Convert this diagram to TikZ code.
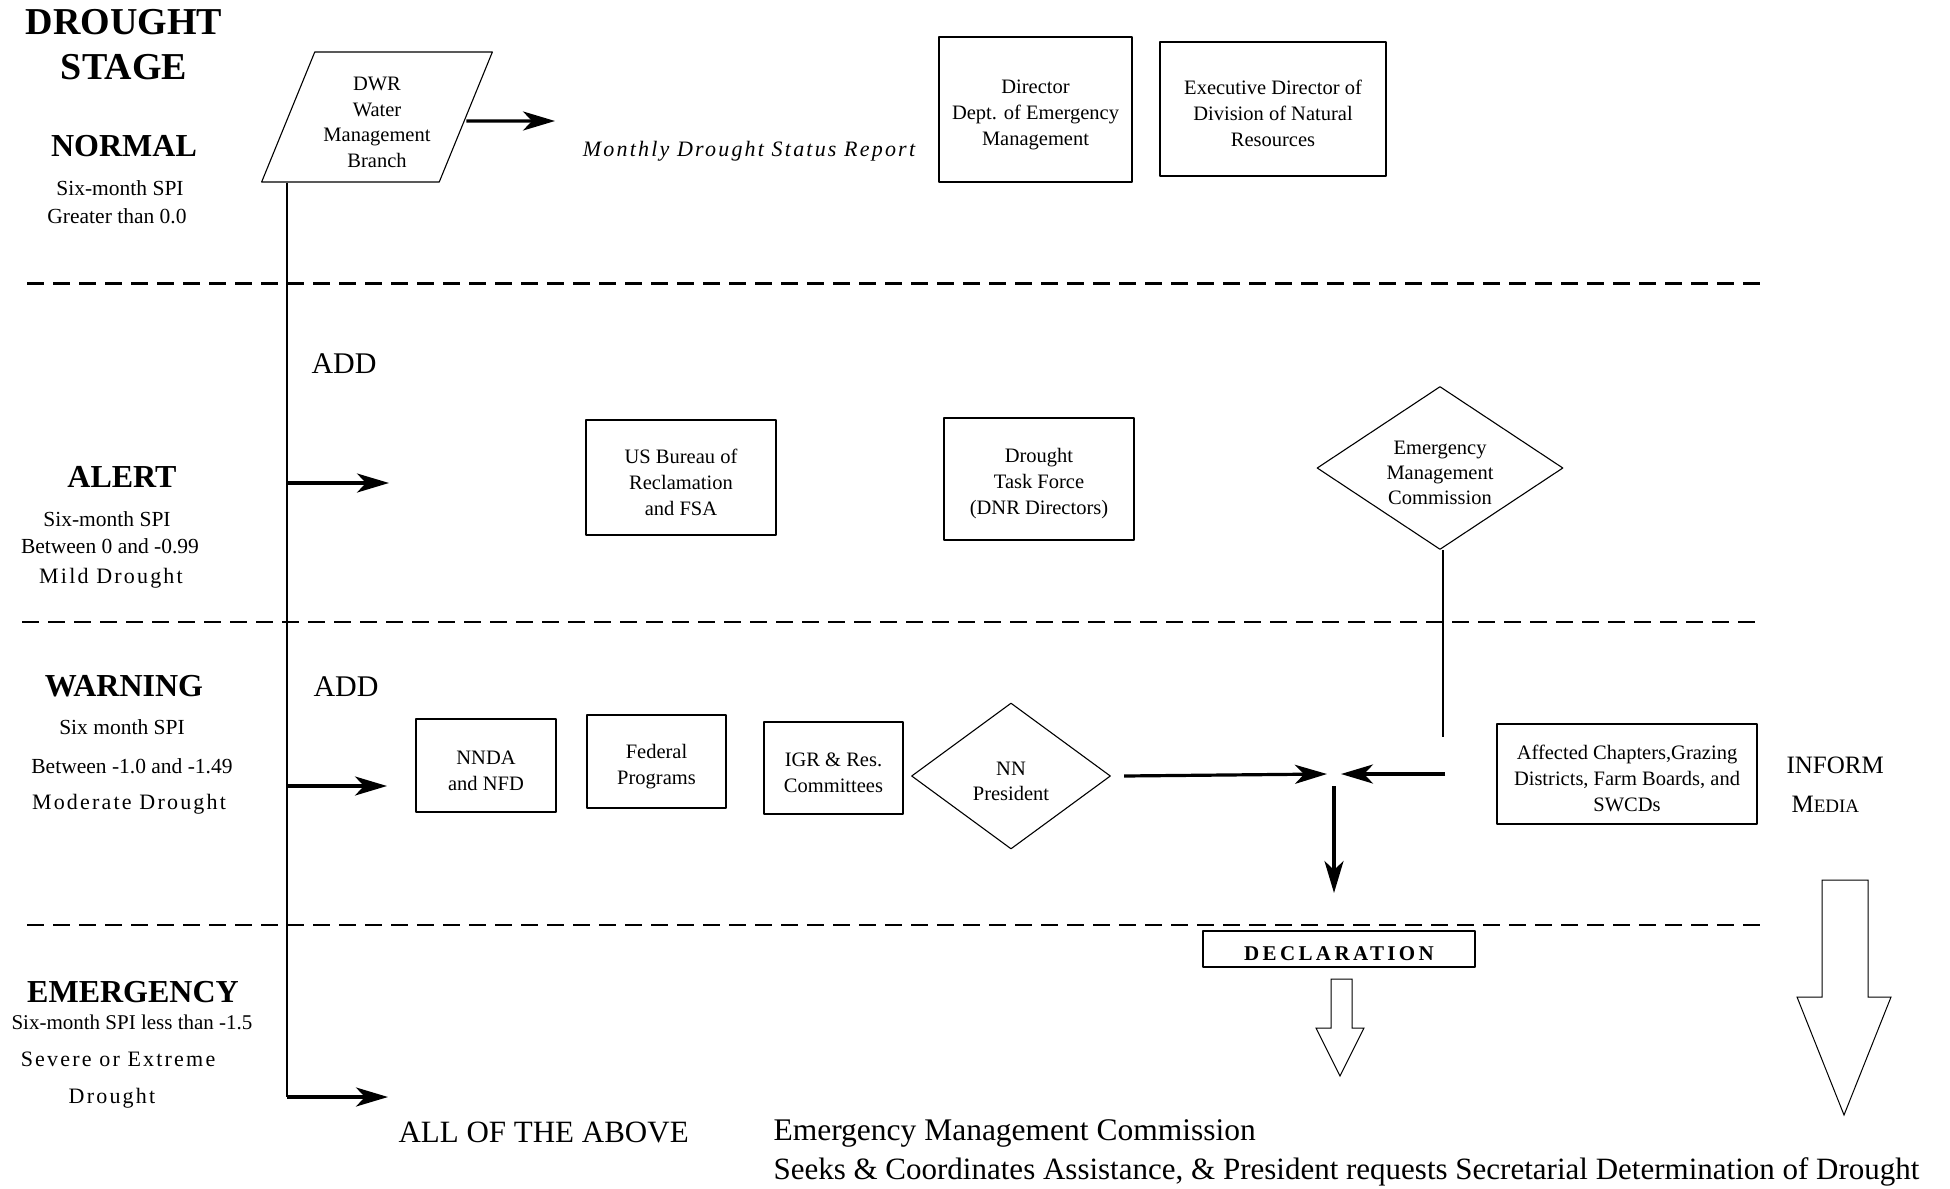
\documentclass[tikz,border=0pt]{standalone}
\usepackage{fontspec}
\setmainfont{Liberation Serif}
\newfontfamily\widefont{Liberation Serif}[LetterSpace=10]
\newfontfamily\declfont{Liberation Serif}[LetterSpace=16]
\usetikzlibrary{arrows.meta,shapes.geometric,positioning}
\newcommand\sz[2]{\fontsize{#1}{#2}\selectfont}
\newcommand\lift{\rule{0pt}{24pt}}

\begin{document}
\begin{tikzpicture}[x=1pt, y=-1pt, line join=round,
		>={Stealth[length=32pt,width=19pt,inset=9pt]},
		box/.style={draw, line width=1.1pt, align=center, inner sep=0pt, font=\sz{20.5}{26}},
		gem/.style={diamond, draw, line width=1.1pt, align=center, inner sep=-10pt, font=\sz{20.5}{25}},
		stage/.style={anchor=base, font=\bfseries\sz{32}{36}},
		note/.style={anchor=base, font=\sz{21.5}{24}},
		spaced/.style={anchor=base, font=\widefont\sz{22}{24}},
		lane/.style={line width=2.7pt, dash pattern=on 17pt off 9pt},
		flow/.style={->, line width=3.2pt},
		hollow/.style={draw, line width=1pt, line join=miter}]
	\useasboundingbox (0,0) rectangle (1950,1188);

	% stage column
	\node[stage, font=\bfseries\sz{38}{40}] (title1) at (124,35) {DROUGHT};
	\node[stage, font=\bfseries\sz{38}{40}] (title2) at (124,80) {STAGE};
	\node[stage] (normal) at (124,157) {NORMAL};
	\node[note] (normal1) at (120,195) {Six-month SPI};
	\node[note] (normal2) at (117,223) {Greater than 0.0};
	\node[stage] (alert) at (122,487) {ALERT};
	\node[note] (alert1) at (107,526) {Six-month SPI};
	\node[note] (alert2) at (110,553) {Between 0 and -0.99};
	\node[spaced] (alert3) at (111,583) {Mild Drought};
	\node[stage] (warning) at (124,696) {WARNING};
	\node[note] (warning1) at (122,734) {Six month SPI};
	\node[note] (warning2) at (132,773) {Between -1.0 and -1.49};
	\node[spaced] (warning3) at (129,809) {Moderate Drought};
	\node[stage] (emergency) at (133,1002) {EMERGENCY};
	\node[note, font=\sz{21}{24}] (emergency1) at (132,1029) {Six-month SPI less than -1.5};
	\node[spaced] (emergency2) at (118,1066) {Severe or Extreme};
	\node[spaced] (emergency3) at (112,1103) {Drought};

	\foreach \y/\a/\b in {283.5/27/1766, 622/22/1760, 925/27/1766}
		\draw[lane] (\a,\y) -- (\b,\y);

	% normal
	\node[trapezium, trapezium stretches=true, trapezium left angle=65.6, trapezium right angle=114.4,
		draw, line width=1.1pt, minimum width=231pt, minimum height=130pt, inner sep=0pt,
		align=center, font=\sz{20.5}{25.5}] (dwr) at (377,117) {\lift DWR\\Water\\Management\\Branch};
	\coordinate (toreport) at (555,121);
	\draw[flow] ([yshift=-4pt]dwr.east) -- (toreport);
	\node[anchor=base, font=\widefont\itshape\sz{22}{24}] (report) at (749,157) {Monthly Drought Status Report};
	\node[box, minimum width=193pt, minimum height=145pt] (dir) at (1035.5,109.5) {\lift Director\\Dept. of Emergency\\Management};
	\node[box, minimum width=226pt, minimum height=134pt] (exec) at (1273,109) {\lift Executive Director of\\Division of Natural\\Resources};

	% spine with the stage arrows
	\coordinate (spine) at (287,0);
	\coordinate (toalert) at (389,483);
	\coordinate (towarning) at (387,786);
	\coordinate (toall) at (388,1097);
	\draw[line width=2.2pt] (dwr.south -| spine) -- (toall -| spine);
	\foreach \t in {toalert,towarning,toall}
		\draw[flow] (\t -| spine) -- (\t);

	% alert
	\node[anchor=base west, font=\sz{30}{32}] (add1) at (308,373) {ADD};
	\node[box, minimum width=190pt, minimum height=115pt] (usbr) at (681,477.5) {\lift US Bureau of\\Reclamation\\and FSA};
	\node[box, minimum width=190pt, minimum height=122pt] (dtf) at (1039,479) {\lift Drought\\Task Force\\(DNR Directors)};
	\node[gem, minimum width=246pt, minimum height=163pt] (emc) at (1440,468) {\lift Emergency\\Management\\Commission};

	% warning
	\node[anchor=base west, font=\sz{30}{32}] (add2) at (310,696) {ADD};
	\node[box, minimum width=140pt, minimum height=93pt] (nnda) at (486,765.5) {\lift NNDA\\and NFD};
	\node[box, minimum width=139pt, minimum height=93pt] (fed) at (656.5,761.5) {\lift Federal\\Programs};
	\node[box, minimum width=139pt, minimum height=92pt] (igr) at (833.5,768) {\lift IGR \& Res.\\Committees};
	\node[gem, minimum width=199pt, minimum height=146pt] (nnp) at (1011,776) {\lift NN\\President};
	\node[box, minimum width=260pt, minimum height=100pt] (aff) at (1627,774) {\lift Affected Chapters,Grazing\\Districts, Farm Boards, and\\SWCDs};
	\node[anchor=base west, font=\sz{25}{28}] (inform) at (1783,773) {INFORM};
	\node[anchor=base west, font=\sz{25}{28}] (media) at (1788,812) {M{\sz{19}{20}EDIA}};

	\coordinate (meet) at (1334,774);
	\coordinate (emcfoot) at (1444,737);
	\coordinate (todecl) at (1334,893);
	\draw[flow] ([xshift=13pt]nnp.east) -- ([xshift=-7pt]meet);
	\draw[line width=1.8pt] ([xshift=3pt]emc.south) -- ([xshift=3pt]emc.south |- emcfoot);
	\draw[flow] ([xshift=5pt]emc.south |- meet) -- ([xshift=7pt]meet);
	\draw[flow] ([yshift=-12pt]meet) -- (todecl);

	% emergency
	\node[box, minimum width=272pt, minimum height=36pt, font=\declfont\bfseries\sz{21}{24}] (decl) at (1339,949) {\lift DECLARATION};
	\draw[hollow] (1331,979) -- (1352,979) -- (1352,1028) -- (1364,1028) -- (1340,1076) -- (1316,1028) -- (1331,1028) -- cycle;
	\draw[hollow] (1822,880) -- (1868,880) -- (1868,997) -- (1891,997) -- (1844,1115) -- (1797,997) -- (1822,997) -- cycle;
	\node[anchor=base west, font=\sz{31}{32}] (allabove) at (395,1142) {ALL OF THE ABOVE};
	\node[anchor=base west, font=\sz{31.5}{39}] (emcnote1) at (770,1140) {Emergency Management Commission};
	\node[anchor=base west, font=\sz{31}{39}] (emcnote2) at (770,1179) {Seeks \& Coordinates Assistance, \& President requests Secretarial Determination of Drought};
\end{tikzpicture}
\end{document}
